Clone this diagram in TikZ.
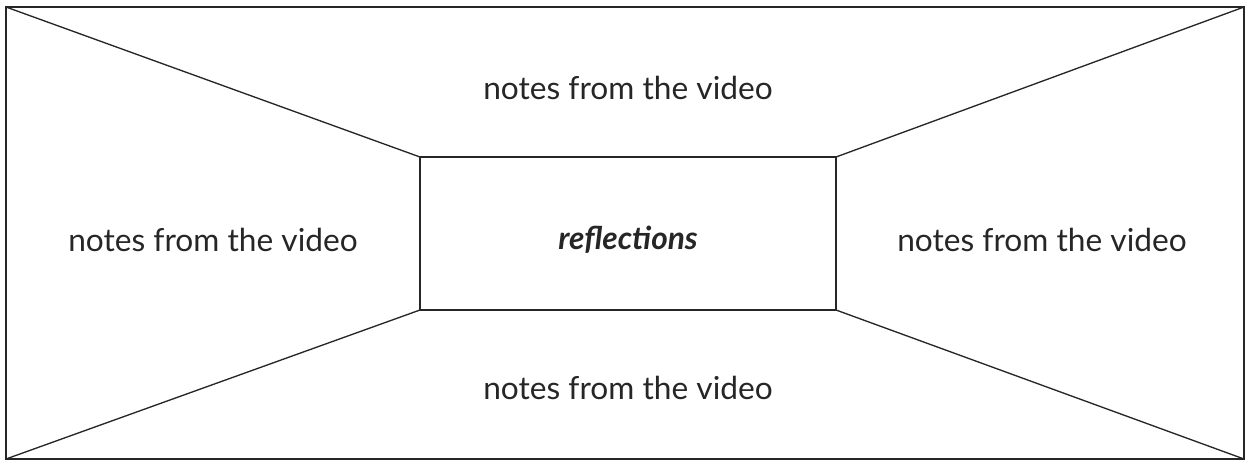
\documentclass[tikz,border=0pt]{standalone}
\usepackage{fontspec}
\setmainfont{Lato}
\begin{document}
\begin{tikzpicture}[x=0.6pt,y=-0.6pt,
  frame/.style={draw=black!85,line width=1.3pt},
  diag/.style={draw=black!85,line width=0.8pt},
  note/.style={font=\fontsize{19}{22}\selectfont,text=black!85,inner sep=0pt},
  centre/.style={font=\fontsize{19}{22}\selectfont\bfseries\itshape,text=black!85,inner sep=0pt}]
\useasboundingbox (0,0) rectangle (1250,462);
\coordinate (o1) at (6,7);
\coordinate (o2) at (1244,7);
\coordinate (o3) at (1244,459);
\coordinate (o4) at (6,459);
\coordinate (i1) at (420,157);
\coordinate (i2) at (836,157);
\coordinate (i3) at (836,310);
\coordinate (i4) at (420,310);
\draw[diag] (o1) -- (i1);
\draw[diag] (o2) -- (i2);
\draw[diag] (o3) -- (i3);
\draw[diag] (o4) -- (i4);
\draw[frame] (o1) rectangle (o3);
\draw[frame] (i1) rectangle (i3);
\node[note] (top) at (628,88) {notes from the video};
\node[note] (left) at (213,240) {notes from the video};
\node[note] (right) at (1042,240) {notes from the video};
\node[note] (bottom) at (628,388) {notes from the video};
\node[centre] (mid) at (628,240) {reflections};
\end{tikzpicture}
\end{document}
